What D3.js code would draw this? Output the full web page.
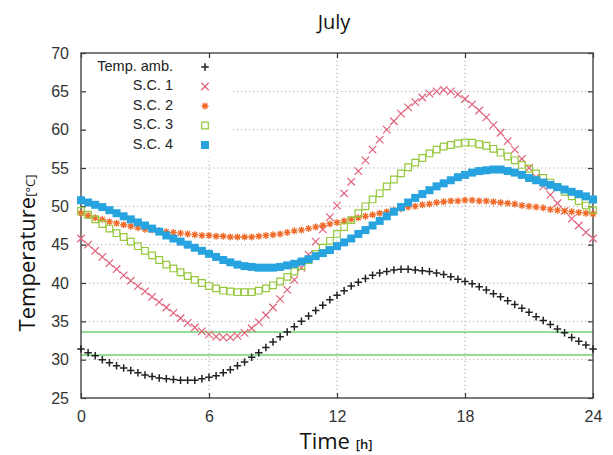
<!DOCTYPE html>
<html>
<head>
<meta charset="utf-8">
<script src="https://cdn.jsdelivr.net/npm/d3@7"></script>
<style>
  body { margin: 0; background: #fff; }
</style>
</head>
<body>
<svg id="chart" width="613" height="455"></svg>
<script>
// samples every 20 min, 0h .. 24h
const hours = d3.range(0, 73).map(k => k / 3);

const tempAmb = [31.4, 30.9, 30.5, 30.0, 29.6, 29.2, 28.9, 28.6, 28.3, 28.0, 27.8, 27.6, 27.5, 27.4, 27.3, 27.3,
  27.3, 27.5, 27.7, 27.9, 28.3, 28.7, 29.2, 29.7, 30.3, 30.9, 31.6, 32.3, 33.0, 33.6, 34.3,
  35.0, 35.7, 36.4, 37.1, 37.8, 38.4, 39.0, 39.6, 40.1, 40.6, 41.0, 41.3, 41.5, 41.7, 41.8,
  41.8, 41.7, 41.6, 41.5, 41.3, 41.1, 40.8, 40.5, 40.2, 39.9, 39.5, 39.1, 38.6, 38.2, 37.7, 37.2, 36.7, 36.2,
  35.6, 35.1, 34.6, 34.0, 33.5, 32.9, 32.4, 31.9, 31.4];

const sc1 = [45.8, 45.0, 44.2, 43.4, 42.6, 41.8, 41.0, 40.3, 39.6, 38.9, 38.2, 37.5, 36.8, 36.1, 35.4, 34.8,
  34.2, 33.7, 33.3, 33.0, 32.9, 32.9, 33.1, 33.5, 34.1, 34.9, 35.8, 36.8, 37.9, 39.1, 40.4,
  42.0, 43.7, 45.4, 47.0, 48.6, 50.1, 51.7, 53.2, 54.6, 56.0, 57.4, 58.7, 60.0, 61.1, 62.1,
  62.9, 63.6, 64.2, 64.7, 65.0, 65.2, 65.0, 64.6, 64.0, 63.3, 62.5, 61.6, 60.6, 59.6, 58.5, 57.4, 56.2, 55.0,
  53.8, 52.6, 51.5, 50.4, 49.4, 48.4, 47.5, 46.6, 45.8];

const sc2 = [49.1, 48.8, 48.5, 48.3, 48.0, 47.8, 47.6, 47.4, 47.2, 47.0, 46.9, 46.8, 46.7, 46.6, 46.5, 46.4,
  46.3, 46.2, 46.2, 46.1, 46.1, 46.0, 46.0, 46.0, 46.0, 46.1, 46.2, 46.3, 46.4, 46.6, 46.8,
  46.9, 47.1, 47.3, 47.5, 47.7, 47.9, 48.1, 48.3, 48.5, 48.7, 48.9, 49.1, 49.3, 49.5, 49.7,
  49.9, 50.0, 50.2, 50.3, 50.5, 50.6, 50.7, 50.7, 50.8, 50.8, 50.7, 50.7, 50.6, 50.5, 50.4, 50.3, 50.1, 50.0,
  49.9, 49.8, 49.6, 49.5, 49.4, 49.3, 49.2, 49.1, 49.0];

const sc3 = [49.4, 48.9, 48.3, 47.7, 47.1, 46.5, 46.0, 45.4, 44.8, 44.2, 43.6, 43.0, 42.4, 41.9, 41.4, 40.9,
  40.4, 40.0, 39.6, 39.3, 39.0, 38.9, 38.8, 38.8, 38.8, 39.0, 39.3, 39.7, 40.2, 40.8, 41.5,
  42.2, 43.0, 43.8, 44.6, 45.5, 46.4, 47.3, 48.2, 49.1, 50.0, 50.9, 51.7, 52.6, 53.5, 54.3,
  55.1, 55.7, 56.3, 56.9, 57.4, 57.8, 58.0, 58.2, 58.3, 58.3, 58.1, 57.9, 57.5, 57.0, 56.5, 56.0, 55.4, 54.9,
  54.3, 53.7, 53.1, 52.5, 51.9, 51.3, 50.7, 50.1, 49.5];

const sc4 = [50.8, 50.5, 50.2, 49.9, 49.5, 49.1, 48.7, 48.3, 47.9, 47.5, 47.1, 46.7, 46.2, 45.8, 45.4, 45.0,
  44.6, 44.2, 43.8, 43.4, 43.0, 42.7, 42.4, 42.2, 42.1, 42.0, 42.0, 42.0, 42.1, 42.3, 42.5,
  42.8, 43.1, 43.5, 43.9, 44.3, 44.8, 45.3, 45.8, 46.4, 46.9, 47.5, 48.1, 48.7, 49.3, 49.9,
  50.5, 51.1, 51.6, 52.1, 52.6, 53.0, 53.4, 53.8, 54.1, 54.4, 54.6, 54.7, 54.8, 54.8, 54.6, 54.4, 54.1, 53.7,
  53.4, 53.1, 52.8, 52.5, 52.2, 51.9, 51.6, 51.3, 50.9];

const seriesNames = ["Temp. amb.", "S.C. 1", "S.C. 2", "S.C. 3", "S.C. 4"];
const seriesValues = [tempAmb, sc1, sc2, sc3, sc4];
const thresholds = [33.6, 30.6];
const xTicks = [0, 6, 12, 18, 24];
const yTicks = [25, 30, 35, 40, 45, 50, 55, 60, 65, 70];

// custom marker shapes (gnuplot like)
const plus = { draw(c, s) { const r = Math.sqrt(s) / 2; c.moveTo(-r, 0); c.lineTo(r, 0); c.moveTo(0, -r); c.lineTo(0, r); } };
const times = { draw(c, s) { const r = Math.sqrt(s) / 2; c.moveTo(-r, -r); c.lineTo(r, r); c.moveTo(-r, r); c.lineTo(r, -r); } };
const star = { draw(c, s) {
  const r = Math.sqrt(s) / 2, d = r * 0.72;
  c.moveTo(-r, 0); c.lineTo(r, 0); c.moveTo(0, -r); c.lineTo(0, r);
  c.moveTo(-d, -d); c.lineTo(d, d); c.moveTo(-d, d); c.lineTo(d, -d);
} };
const square = { draw(c, s) { const r = Math.sqrt(s) / 2; c.rect(-r, -r, 2 * r, 2 * r); } };

const styles = [
  { type: plus, size: 56, fill: "none", stroke: "#222", sw: 1.5 },
  { type: times, size: 56, fill: "none", stroke: "#e0607a", sw: 1.2 },
  { type: star, size: 49, fill: "none", stroke: "#f06a2a", sw: 1.3 },
  { type: square, size: 44, fill: "none", stroke: "#96c83c", sw: 1.2 },
  { type: square, size: 64, fill: "#27a3df", stroke: "none", sw: 0 }
];

const svg = d3.select("#chart");
const margin = { top: 53, right: 20, bottom: 57, left: 81 };
const width = 613, height = 455;

const x = d3.scaleLinear().domain([0, 24]).range([margin.left, width - margin.right]);
const y = d3.scaleLinear().domain([25, 70]).range([height - margin.bottom, margin.top]);

// grid
const grid = svg.append("g").attr("stroke", "#aaa").attr("stroke-width", 1).attr("stroke-dasharray", "1.2,2.8");
grid.selectAll(".gy").data(yTicks.slice(1, -1)).join("line")
  .attr("x1", x(0)).attr("x2", x(24))
  .attr("y1", d => y(d)).attr("y2", d => y(d));
grid.selectAll(".gx").data(xTicks.slice(1, -1)).join("line")
  .attr("x1", d => x(d)).attr("x2", d => x(d))
  .attr("y1", y(25)).attr("y2", y(70));

// green limit lines
svg.append("g").selectAll("line").data(thresholds).join("line")
  .attr("x1", x(0)).attr("x2", x(24))
  .attr("y1", d => y(d)).attr("y2", d => y(d))
  .attr("stroke", "#6fd06f").attr("stroke-width", 1.6);

// opaque key box
svg.append("rect")
  .attr("x", x(0) + 1).attr("y", y(70) + 1)
  .attr("width", x(7) - x(0)).attr("height", y(56.5) - y(70))
  .attr("fill", "#fff");

// axes
const axisG = svg.append("g");
axisG.append("g").attr("transform", `translate(0,${y(25)})`)
  .call(d3.axisBottom(x).tickValues(xTicks).tickSizeInner(-5).tickSizeOuter(0).tickPadding(13));
axisG.append("g").attr("transform", `translate(0,${y(70)})`)
  .call(d3.axisTop(x).tickValues(xTicks).tickSizeInner(-5).tickSizeOuter(0).tickFormat(""));
axisG.append("g").attr("transform", `translate(${x(0)},0)`)
  .call(d3.axisLeft(y).tickValues(yTicks).tickSizeInner(-5).tickSizeOuter(0).tickPadding(12));
axisG.append("g").attr("transform", `translate(${x(24)},0)`)
  .call(d3.axisRight(y).tickValues(yTicks).tickSizeInner(-5).tickSizeOuter(0).tickFormat(""));
axisG.selectAll(".domain").remove();
axisG.selectAll(".tick line").attr("stroke", "#333").attr("stroke-width", 1.2);
axisG.selectAll(".tick text")
  .attr("fill", "#333")
  .style("font-family", "'Liberation Sans', Arial, sans-serif")
  .style("font-size", "16px");

// frame
svg.append("rect")
  .attr("x", x(0)).attr("y", y(70))
  .attr("width", x(24) - x(0)).attr("height", y(25) - y(70))
  .attr("fill", "none").attr("stroke", "#444").attr("stroke-width", 1.4);

// data points
seriesValues.forEach((vals, i) => {
  const st = styles[i];
  const sym = d3.symbol().type(st.type).size(st.size);
  svg.append("g").selectAll("path").data(vals).join("path")
    .attr("transform", (d, k) => `translate(${x(hours[k])},${y(d)})`)
    .attr("d", sym)
    .attr("fill", st.fill)
    .attr("stroke", st.stroke)
    .attr("stroke-width", st.sw);
});

// legend
const legend = svg.append("g").style("font-family", "'Liberation Sans', Arial, sans-serif").style("font-size", "14.5px");
const rowY = d3.scaleLinear().domain([0, 4]).range([67, 145]);
seriesNames.forEach((name, i) => {
  legend.append("text")
    .attr("x", 173).attr("y", rowY(i))
    .attr("text-anchor", "end").attr("dominant-baseline", "middle")
    .attr("fill", "#222")
    .text(name);
  const st = styles[i];
  legend.append("path")
    .attr("transform", `translate(205,${rowY(i)})`)
    .attr("d", d3.symbol().type(st.type).size(st.size)())
    .attr("fill", st.fill).attr("stroke", st.stroke).attr("stroke-width", st.sw);
});

// titles
svg.append("text")
  .attr("x", 334).attr("y", 29)
  .attr("text-anchor", "middle")
  .style("font-family", "'Open Sans', sans-serif").style("font-size", "20px")
  .attr("fill", "#111")
  .text("July");

const xl = svg.append("text")
  .attr("x", 336).attr("y", 449)
  .attr("text-anchor", "middle")
  .style("font-family", "'Open Sans', sans-serif")
  .attr("fill", "#111");
xl.append("tspan").style("font-size", "22px").text("Time ");
xl.append("tspan").style("font-size", "13px").style("font-weight", "600").text("[h]");

const yl = svg.append("text")
  .attr("transform", "translate(35,253) rotate(-90)")
  .attr("text-anchor", "middle")
  .style("font-family", "'Open Sans', sans-serif")
  .attr("fill", "#111");
yl.append("tspan").style("font-size", "22px").text("Temperature");
yl.append("tspan").style("font-size", "13px").text("[°C]");
</script>
</body>
</html>
